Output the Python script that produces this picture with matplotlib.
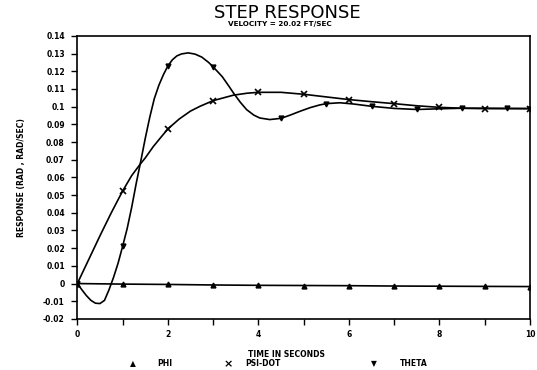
import numpy as np
import matplotlib
matplotlib.use("Agg")
import matplotlib.pyplot as plt

# values
phi_t = [0, 1, 2, 3, 4, 5, 6, 7, 8, 9, 10]
phi_v = [0.0, -0.0003, -0.0005, -0.0008, -0.0010, -0.0011,
         -0.0012, -0.0014, -0.0015, -0.0016, -0.0017]

psi_t = [0, 0.25, 0.5, 0.75, 1.0, 1.2, 1.38, 1.5, 1.68, 1.85, 2.0, 2.25,
         2.5, 2.71, 3.0, 3.45, 3.75, 4.0, 4.5, 5.0, 5.5, 6.0, 6.5, 7.0,
         7.5, 8.0, 8.5, 9.0, 9.5, 10]
psi_v = [0.0, 0.0135, 0.0270, 0.0400, 0.0523, 0.0610, 0.0672, 0.0710,
         0.0775, 0.0828, 0.0874, 0.0930, 0.0975, 0.1002, 0.1034, 0.1065,
         0.1076, 0.1081, 0.1081, 0.1070, 0.1055, 0.1040, 0.1028, 0.1017,
         0.1005, 0.0996, 0.0991, 0.0989, 0.0989, 0.0989]
psi_marks = [0, 1, 2, 3, 4, 5, 6, 7, 8, 9, 10]

theta_t = [0, 0.1, 0.2, 0.3, 0.4, 0.5, 0.6, 0.7, 0.8, 0.9, 1.0, 1.1, 1.2,
           1.3, 1.4, 1.5, 1.6, 1.7, 1.8, 1.9, 2.0, 2.1, 2.2, 2.3, 2.45,
           2.6, 2.75, 2.9, 3.0, 3.2, 3.35, 3.45, 3.6, 3.74, 3.9, 4.03,
           4.25, 4.5, 4.7, 4.92, 5.15, 5.36, 5.5, 5.8, 6.1, 6.5, 7.0,
           7.5, 8.0, 8.5, 9.0, 9.5, 10]
theta_v = [0.0, -0.0035, -0.0068, -0.0095, -0.0111, -0.0113, -0.0095,
           -0.0035, 0.0035, 0.0115, 0.0210, 0.0310, 0.0430, 0.0565,
           0.0690, 0.0820, 0.0940, 0.1045, 0.1120, 0.1180, 0.1230,
           0.1265, 0.1287, 0.1298, 0.1304, 0.1297, 0.1280, 0.1250,
           0.1225, 0.1170, 0.1115, 0.1077, 0.1025, 0.0983, 0.0952,
           0.0936, 0.0927, 0.0934, 0.0952, 0.0974, 0.0995, 0.1010,
           0.1017, 0.1022, 0.1015, 0.1002, 0.0990, 0.0984, 0.0988,
           0.0991, 0.0991, 0.0990, 0.0989]
theta_marks = [0, 1, 2, 3, 4.5, 5.5, 6.5, 7.5, 8.5, 9.5, 10]

labels = ["PHI", "PSI-DOT", "THETA"]
symbols = ["\u25b2", "\u00d7", "\u25bc"]

fig = plt.figure(figsize=(5.37, 3.70), dpi=100)
ax = fig.add_axes([0.144, 0.138, 0.843, 0.765])

bold = dict(fontsize=5.5, fontweight="bold")

ax.plot(phi_t, phi_v, color="k", lw=1.2, marker="^", ms=3.5)
ax.plot(psi_t, psi_v, color="k", lw=1.2, marker="x", ms=4, mew=1.2,
        markevery=list(np.flatnonzero(np.isin(psi_t, psi_marks))))
ax.plot(theta_t, theta_v, color="k", lw=1.2, marker="v", ms=3.5,
        markevery=list(np.flatnonzero(np.isin(theta_t, theta_marks))))

ax.set_xlim(0, 10)
ax.set_ylim(-0.02, 0.14)
ax.set_xticks(np.arange(0, 11, 2))
ax.set_xticks(np.arange(1, 10, 2), minor=True)
yt = np.arange(-0.02, 0.1401, 0.01)
ax.set_yticks(yt)
ax.set_yticklabels(["%g" % round(v, 2) for v in yt])
ax.tick_params(which="both", direction="out", length=4, width=1.0,
               labelsize=5.5)
ax.tick_params(axis="x", pad=4)
ax.tick_params(axis="y", pad=5)
for lab in ax.get_xticklabels() + ax.get_yticklabels():
    lab.set_fontweight("bold")
for s in ax.spines.values():
    s.set_linewidth(1.2)

ax.set_xlabel("TIME IN SECONDS", **bold)
ax.xaxis.set_label_coords(0.461, -0.111)
ax.set_ylabel("RESPONSE (RAD , RAD/SEC)", labelpad=12, **bold)

fig.text(0.535, 0.966, "STEP RESPONSE", ha="center", va="center",
         fontsize=13)
fig.text(0.522, 0.936, "VELOCITY = 20.02 FT/SEC", ha="center", va="center",
         fontsize=5.2, fontweight="bold")

# legend row under the axis label
sym_x = [133, 228, 374]
sym_size = [5.5, 8, 5.5]
lab_x = [157, 245, 400]
for s, l, xs, fs, xl in zip(symbols, labels, sym_x, sym_size, lab_x):
    fig.text(xs / 537, 1 - 364 / 370, s, ha="center", va="center",
             fontsize=fs, fontweight="bold")
    fig.text(xl / 537, 1 - 364 / 370, l, ha="left", va="center", **bold)

fig.savefig("out.png", dpi=100)
